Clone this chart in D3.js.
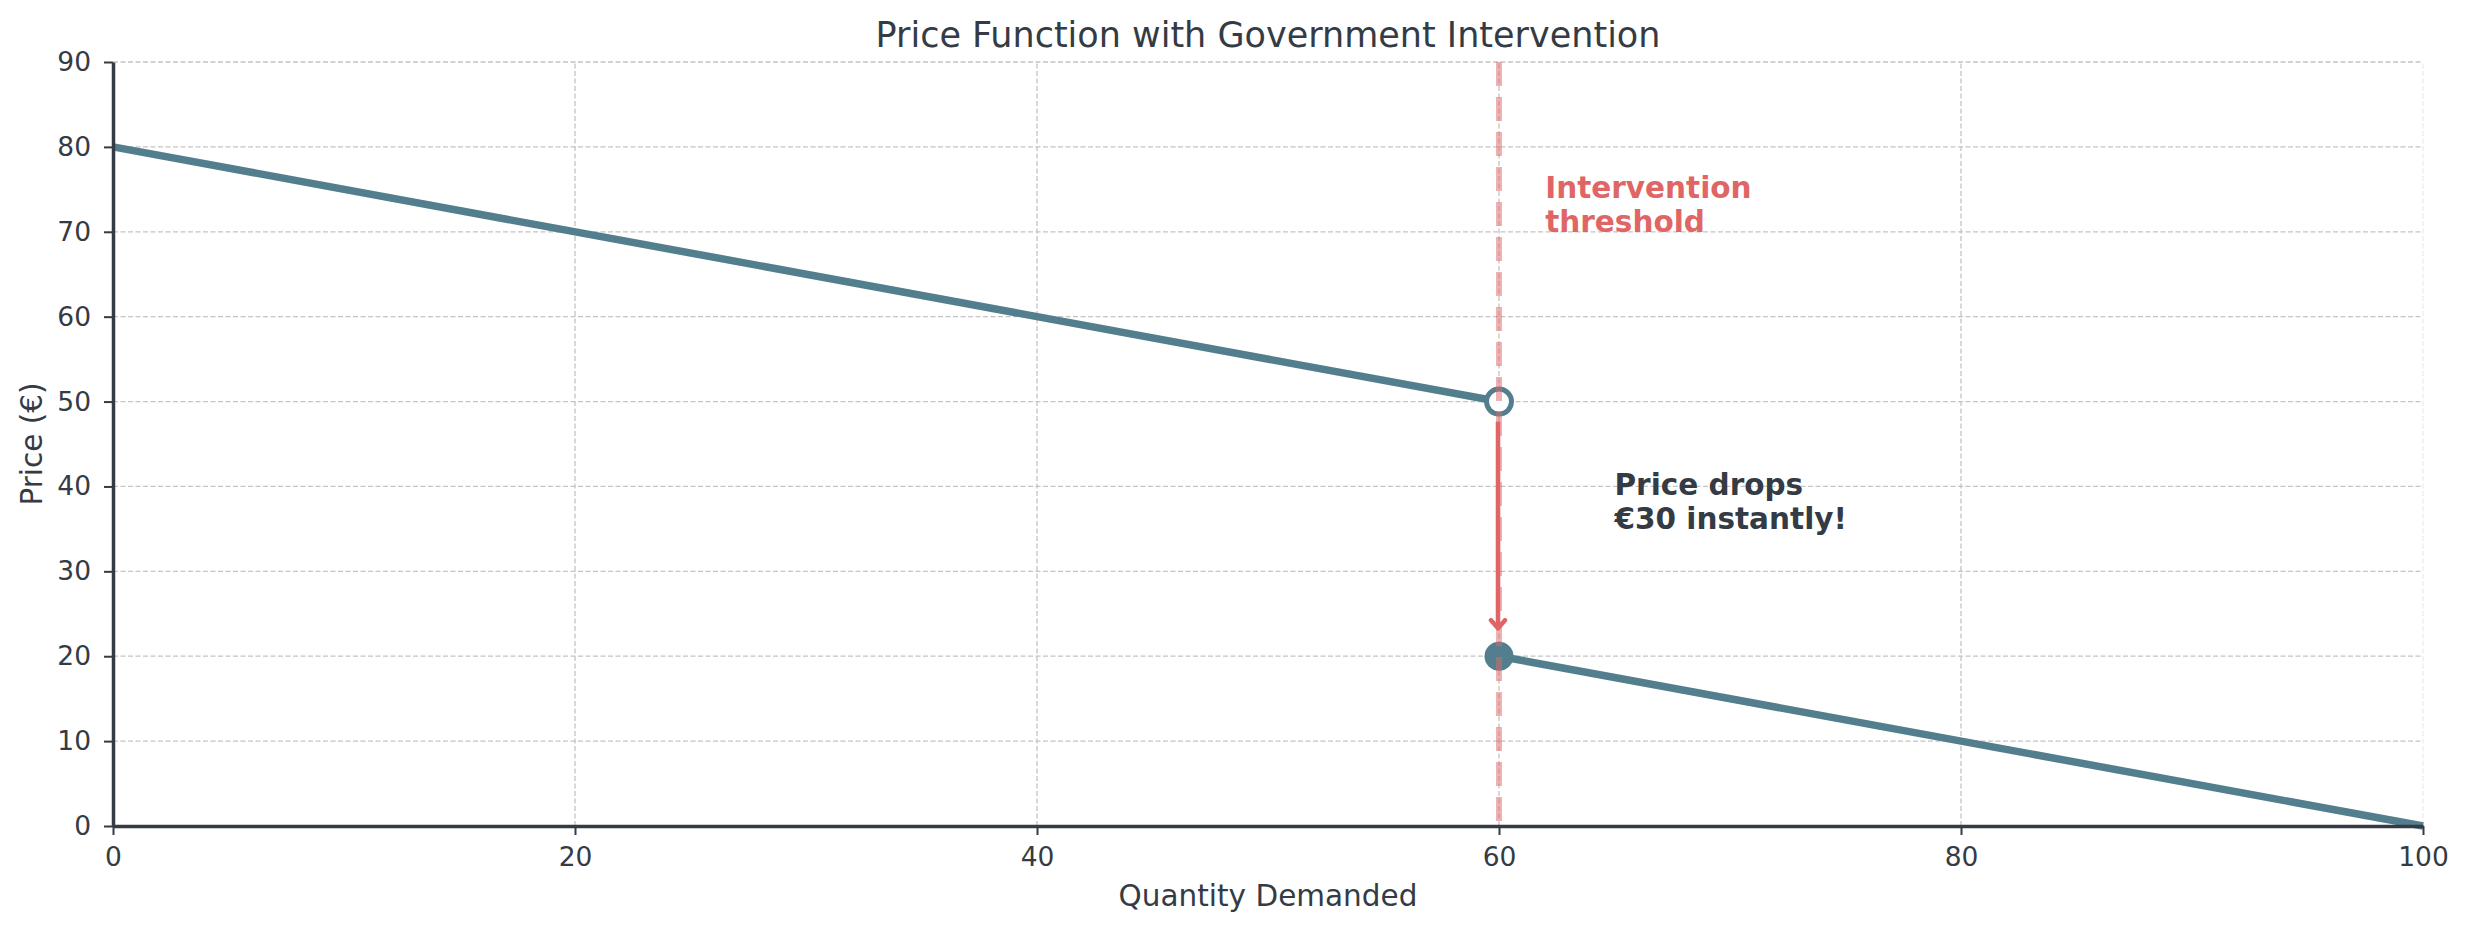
<!DOCTYPE html>
<html lang="en">
<head>
  <meta charset="UTF-8">
  <title>Price Function with Government Intervention</title>
  <style>
    body { margin: 0; background: #fff; }
    #chart { display: block; font-family: "DejaVu Sans", sans-serif; }
  </style>
</head>
<body>
  <svg id="chart"></svg>

  <script src="https://d3js.org/d3.v7.min.js"></script>
  <script>
    // Chart dimensions (same as the browser window)
    const width = 2468;
    const height = 930;
    const margin = { top: 62, right: 45, bottom: 104, left: 113 };

    // Data: the two pieces of the price function
    const qtyBefore = [0, 60];
    const priceBefore = [80, 50];
    const qtyAfter = [60, 100];
    const priceAfter = [20, 0];
    const threshold = 60;

    // Tick values
    const xTicks = [0, 20, 40, 60, 80, 100];
    const yTicks = [0, 10, 20, 30, 40, 50, 60, 70, 80, 90];

    const dark = "#343b44";
    const lineColor = "#537e8e";
    const red = "#e06666";

    const svg = d3.select("#chart")
      .attr("width", width)
      .attr("height", height);

    const x = d3.scaleLinear()
      .domain([0, 100])
      .range([margin.left, width - margin.right]);

    const y = d3.scaleLinear()
      .domain([0, 90])
      .range([height - margin.bottom, margin.top]);

    // Grid lines
    const grid = svg.append("g").attr("class", "grid");
    grid.selectAll("line.h")
      .data(yTicks)
      .join("line")
      .attr("class", "h")
      .attr("x1", x(0)).attr("x2", x(100))
      .attr("y1", d => y(d)).attr("y2", d => y(d))
      .attr("stroke", "#c4c4c4")
      .attr("stroke-width", 1.3)
      .attr("stroke-dasharray", "5,2.5");
    grid.selectAll("line.v")
      .data(xTicks)
      .join("line")
      .attr("class", "v")
      .attr("x1", d => x(d)).attr("x2", d => x(d))
      .attr("y1", y(0)).attr("y2", y(90))
      .attr("stroke", d => d === 100 ? "#ececec" : "#c4c4c4")
      .attr("stroke-width", 1.3)
      .attr("stroke-dasharray", "5,2.5");

    // Price function line pieces
    const line = d3.line()
      .x(d => x(d[0]))
      .y(d => y(d[1]));

    svg.append("path")
      .datum(d3.zip(qtyBefore, priceBefore))
      .attr("fill", "none")
      .attr("stroke", lineColor)
      .attr("stroke-width", 7.5)
      .attr("d", line);

    svg.append("path")
      .datum(d3.zip(qtyAfter, priceAfter))
      .attr("fill", "none")
      .attr("stroke", lineColor)
      .attr("stroke-width", 7.5)
      .attr("d", line);

    // Axes
    const xAxis = svg.append("g")
      .attr("transform", `translate(0, ${y(0)})`)
      .call(d3.axisBottom(x).tickValues(xTicks).tickSize(9).tickPadding(12).tickSizeOuter(0));

    const yAxis = svg.append("g")
      .attr("transform", `translate(${x(0)}, 0)`)
      .call(d3.axisLeft(y).tickValues(yTicks).tickSize(9).tickPadding(13).tickSizeOuter(0));

    [xAxis, yAxis].forEach(ax => {
      ax.select(".domain").attr("stroke", dark).attr("stroke-width", 3.5);
      ax.selectAll(".tick line").attr("stroke", dark).attr("stroke-width", 2);
      ax.selectAll(".tick text")
        .attr("fill", dark)
        .attr("font-size", 26.5)
        .attr("font-family", "DejaVu Sans");
    });

    // Arrow showing the drop
    svg.append("defs").append("marker")
      .attr("id", "head")
      .attr("viewBox", "-10 -10 20 20")
      .attr("refX", 0).attr("refY", 0)
      .attr("markerUnits", "userSpaceOnUse")
      .attr("markerWidth", 20).attr("markerHeight", 20)
      .attr("orient", "auto")
      .append("path")
      .attr("d", "M-8,-7 L0,0 L-8,7")
      .attr("fill", "none")
      .attr("stroke", red)
      .attr("stroke-width", 4.5)
      .attr("stroke-linecap", "round")
      .attr("stroke-linejoin", "round");

    svg.append("line")
      .attr("x1", x(threshold) - 1).attr("x2", x(threshold) - 1)
      .attr("y1", y(priceBefore[1]) + 20)
      .attr("y2", y(priceAfter[0]) - 28)
      .attr("stroke", red)
      .attr("stroke-width", 4.5)
      .attr("marker-end", "url(#head)");

    // Jump points: open before, filled after
    svg.append("circle")
      .attr("cx", x(qtyBefore[1]))
      .attr("cy", y(priceBefore[1]))
      .attr("r", 12.5)
      .attr("fill", "#fff")
      .attr("stroke", lineColor)
      .attr("stroke-width", 5);

    svg.append("circle")
      .attr("cx", x(qtyAfter[0]))
      .attr("cy", y(priceAfter[0]))
      .attr("r", 14.5)
      .attr("fill", lineColor);

    // Intervention threshold line, semi-transparent, on top
    svg.append("line")
      .attr("x1", x(threshold)).attr("x2", x(threshold))
      .attr("y1", y(90)).attr("y2", y(0))
      .attr("stroke", red)
      .attr("stroke-opacity", 0.5)
      .attr("stroke-width", 6)
      .attr("stroke-dasharray", "24,11");

    // Annotations
    const addLines = (lines, qx, qy, color) => {
      const t = svg.append("text")
        .attr("x", x(qx))
        .attr("y", y(qy))
        .attr("fill", color)
        .attr("font-size", 29.5)
        .attr("font-weight", "bold");
      lines.forEach((s, i) => {
        t.append("tspan")
          .attr("x", x(qx))
          .attr("y", y(qy) - (lines.length - 1 - i) * 34)
          .text(s);
      });
    };
    addLines(["Intervention", "threshold"], 62, 70, red);
    addLines(["Price drops", "€30 instantly!"], 65, 35, dark);

    // Title and axis labels
    svg.append("text")
      .attr("x", (x(0) + x(100)) / 2)
      .attr("y", 47)
      .attr("text-anchor", "middle")
      .attr("fill", dark)
      .attr("font-size", 35)
      .text("Price Function with Government Intervention");

    svg.append("text")
      .attr("x", (x(0) + x(100)) / 2)
      .attr("y", 906)
      .attr("text-anchor", "middle")
      .attr("fill", dark)
      .attr("font-size", 29.5)
      .text("Quantity Demanded");

    svg.append("text")
      .attr("transform", `translate(42, ${(y(0) + y(90)) / 2}) rotate(-90)`)
      .attr("text-anchor", "middle")
      .attr("fill", dark)
      .attr("font-size", 29.5)
      .text("Price (€)");
  </script>
</body>
</html>
